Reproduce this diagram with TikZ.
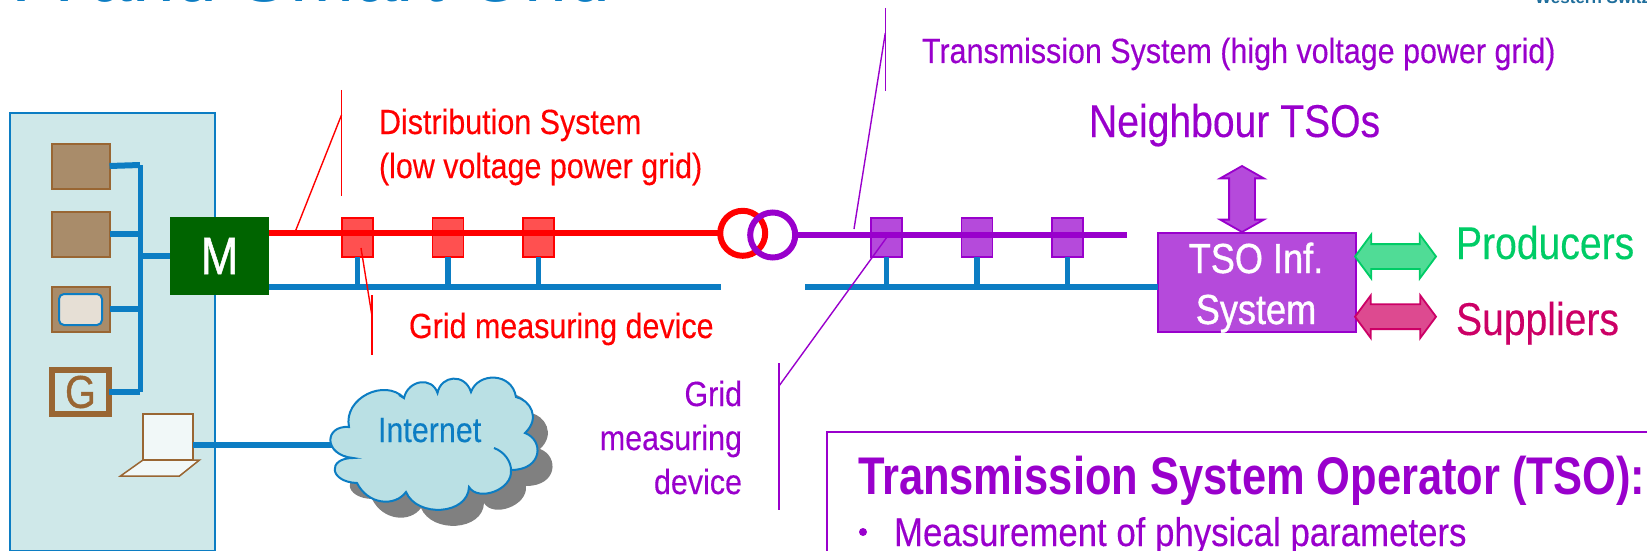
\documentclass[tikz,border=0pt]{standalone}
\usepackage{fontspec}
\usetikzlibrary{shapes.arrows}
\newfontfamily\nar[FakeStretch=0.87,FakeBold=0.25]{Liberation Sans}
\newfontfamily\narl[FakeStretch=0.85,FakeBold=0.25]{Liberation Sans}
\newfontfamily\nart[FakeStretch=0.8]{Liberation Sans}
\newfontfamily\narw[FakeStretch=0.86,FakeBold=0.9]{Liberation Sans}
\newfontfamily\narb[FakeStretch=0.82]{Liberation Sans Bold}
\newfontfamily\logofont{Liberation Sans Bold}
\definecolor{cblue}{HTML}{0C7DC3}
\definecolor{cred}{HTML}{FF0000}
\definecolor{cpur}{HTML}{9900CC}
\definecolor{cpurf}{HTML}{B54ADB}
\definecolor{credf}{HTML}{FF5050}
\definecolor{cbrown}{HTML}{996633}
\definecolor{cbrownf}{HTML}{A98C6A}
\definecolor{chouse}{HTML}{CFE8E9}
\definecolor{ccloud}{HTML}{BAE0E4}
\definecolor{cgreen}{HTML}{00CC66}
\definecolor{cgreenf}{HTML}{50DC96}
\definecolor{cmag}{HTML}{CC0066}
\definecolor{cmagf}{HTML}{DD4A90}
\definecolor{cscreen}{HTML}{E6DFD5}
\definecolor{cmeter}{HTML}{006400}
\definecolor{clogo}{HTML}{1F6E9C}
\newcommand{\fs}[1]{\fontsize{#1}{#1}\selectfont}
\newcommand{\cloudpts}{(349,427) .. controls (343,398) and (385,378) .. (404,398)
 .. controls (408,380) and (432,376) .. (437.5,393)
 .. controls (441,375) and (465,373) .. (471,392)
 .. controls (478,372) and (512,372) .. (516,397)
 .. controls (530,400) and (541,418) .. (525,433)
 .. controls (544,440) and (543,470) .. (511,470)
 .. controls (513,490) and (478,502) .. (469,487)
 .. controls (468,515) and (417,518) .. (406,492)
 .. controls (395,507) and (368,505) .. (357,483)
 .. controls (329,482) and (327,458) .. (353,458)
 .. controls (323,455) and (324,425) .. (349,427) -- cycle}
\tikzset{
 x=1pt,y=-1pt,
 txt/.style={inner sep=0,outer sep=0,anchor=base west,font=\nar},
 txtr/.style={inner sep=0,outer sep=0,anchor=base east,font=\nar},
 boxn/.style={inner sep=0,outer sep=0,draw=#1},
 devbox/.style={boxn=cbrown,fill=cbrownf,line width=2pt,minimum width=58pt,minimum height=45pt},
 rmeas/.style={boxn=cred,fill=credf,line width=1.8pt,minimum width=31pt,minimum height=39pt},
 pmeas/.style={boxn=cpur,fill=cpurf,line width=1.8pt,minimum width=31pt,minimum height=39pt},
 wire/.style={cblue,line width=#1},
 callr/.style={cred,line width=1.4pt},
 callp/.style={cpur,line width=1.4pt},
 dbl/.style={double arrow,inner xsep=0,outer sep=0,line width=1.8pt},
}
\begin{document}
\begin{tikzpicture}
\useasboundingbox (0,0) rectangle (1647,551);
\begin{scope}
\clip (0,0) rectangle (1647,551);
% cropped title and logo text
\node[inner sep=0,outer sep=0,anchor=base west,font=\nart,text=cblue] (title) at (17,1.5) {\fs{96}A and Smart Grid};
\node[inner sep=0,anchor=base west,text=clogo] (logo) at (1535,3.5) {\logofont\fs{17}Western Switzerland};
% house
\node[boxn=cblue,fill=chouse,line width=2pt,minimum width=205pt,minimum height=438pt] (house) at (112.5,332) {};
\node[devbox] (d1) at (80.5,166) {};
\node[devbox] (d2) at (80.5,234) {};
\node[devbox] (d3) at (80.5,309) {};
\node[boxn=cblue,fill=cscreen,line width=2pt,rounded corners=5pt,minimum width=43pt,minimum height=31pt] (scr) at (80.5,309.5) {};
\node[boxn=cbrown,fill=chouse,line width=6pt,minimum width=57pt,minimum height=44pt,font=\narw\fs{46},text=cbrown] (g) at (80.5,392) {G};
% wiring
\coordinate (bt) at (140,165);
\coordinate (bb) at (140,392);
\coordinate (bm) at (140,256);
\node[boxn=cbrown,fill=chouse!30!white,line width=1.5pt,minimum width=50pt,minimum height=46pt] (lapscr) at (168,437) {};
\draw[cbrown,fill=chouse!30!white,line width=1.5pt] (lapscr.south west) -- (199.5,460) -- (179.5,476) -- (120.5,476) -- cycle;
\draw[wire=5pt] (bt) -- (bb);
\draw[wire=6pt] (d1.east) -- (bt);
\draw[wire=6pt] (d2.east) -- (d2.east -| bt);
\draw[wire=6pt] (d3.east) -- (d3.east -| bt);
\draw[wire=6pt] (g.east) -- (bb);
% cloud
\begin{scope}[shift={(15,16)}]
\fill[black!50] \cloudpts;
\end{scope}
\coordinate (cloudw) at (332,445);
\draw[wire=6pt] (lapscr.east |- cloudw) -- (cloudw);
\draw[cblue,fill=ccloud,line width=2pt] \cloudpts;
\draw[cblue,line width=2pt] (494,448) .. controls (505,452) and (511,462) .. (511,470);
\draw[cblue,line width=2pt] (404,398) -- (399,395);
\node[txt,text=cblue,font=\nar\fs{35}] (inet) at (378,442) {Internet};
% meter
\node[fill=cmeter,inner sep=0,outer sep=0,minimum width=99pt,minimum height=78pt,text=white,font=\narw\fs{53}] (m) at (219.5,256) {M};
\draw[wire=6pt] (bm) -- (m.west |- bm);
% red side
\coordinate (rbus0) at (269,287);
\coordinate (rbus1) at (721,287);
\node[rmeas] (r1) at (357.5,237.5) {};
\node[rmeas] (r2) at (448,237.5) {};
\node[rmeas] (r3) at (538.5,237.5) {};
\draw[wire=5.5pt] (r1.south) -- (r1.south |- rbus0);
\draw[wire=5.5pt] (r2.south) -- (r2.south |- rbus0);
\draw[wire=5.5pt] (r3.south) -- (r3.south |- rbus0);
\draw[wire=6.5pt] (rbus0) -- (rbus1);
\node[circle,draw=cred,line width=6pt,inner sep=0,outer sep=0,minimum size=45pt] (tr) at (742.7,233.3) {};
\coordinate (rstart) at (269,233.3);
\draw[cred,line width=6pt] (rstart) -- (tr.west);
% purple side
\coordinate (pbus0) at (805,287);
\node[pmeas] (p1) at (886.5,237.5) {};
\node[pmeas] (p2) at (977,237.5) {};
\node[pmeas] (p3) at (1067.5,237.5) {};
\draw[wire=5.5pt] (p1.south) -- (p1.south |- pbus0);
\draw[wire=5.5pt] (p2.south) -- (p2.south |- pbus0);
\draw[wire=5.5pt] (p3.south) -- (p3.south |- pbus0);
\node[boxn=cpur,fill=cpurf,line width=2.4pt,minimum width=198pt,minimum height=99pt] (tso) at (1257,282.5) {};
\draw[wire=6.5pt] (pbus0) -- (pbus0 -| tso.west);
\node[circle,draw=cpur,line width=6pt,inner sep=0,outer sep=0,minimum size=45pt] (tp) at (772.7,235) {};
\coordinate (pend) at (1126.7,235);
\draw[cpur,line width=6pt] (tp.east) -- (pend);
% TSO text
\node[inner sep=0,anchor=base,text=white,font=\narw\fs{42}] (t1) at (1256,273) {TSO Inf.};
\node[inner sep=0,anchor=base,text=white,font=\narw\fs{42}] (t2) at (1256,324) {System};
% arrows
\node[dbl,draw=cpur,fill=cpurf,rotate=90,inner ysep=12pt,minimum height=66pt,double arrow head extend=9pt,double arrow tip angle=121] (a1) at (1242,199) {};
\node[dbl,draw=cgreen,fill=cgreenf,inner ysep=11.5pt,minimum height=81pt,double arrow head extend=9.5pt,double arrow tip angle=107] (a2) at (1395.5,256.5) {};
\node[dbl,draw=cmag,fill=cmagf,inner ysep=11.5pt,minimum height=81pt,double arrow head extend=9pt,double arrow tip angle=107] (a3) at (1395.5,316.7) {};
% labels
\node[txt,text=cred,font=\nar\fs{35}] (ds1) at (379,134) {Distribution System};
\node[txt,text=cred,font=\nar\fs{35}] (ds2) at (379,178) {(low voltage power grid)};
\node[txt,text=cred,font=\nar\fs{35}] (gm) at (409,338) {Grid measuring device};
\node[txt,text=cpur,font=\nar\fs{35}] (ts) at (922,63) {Transmission System (high voltage power grid)};
\node[txt,text=cpur,font=\narl\fs{46}] (nb) at (1089,137) {Neighbour TSOs};
\node[txt,text=cgreen,font=\narl\fs{46}] (pr) at (1456,259) {Producers};
\node[txt,text=cmag,font=\narl\fs{46}] (su) at (1456,335) {Suppliers};
\node[txtr,text=cpur,font=\nar\fs{35}] (pg1) at (742,406) {Grid};
\node[txtr,text=cpur,font=\nar\fs{35}] (pg2) at (742,450) {measuring};
\node[txtr,text=cpur,font=\nar\fs{35}] (pg3) at (742,494) {device};
% callouts
\coordinate (c1a) at (341.5,90); \coordinate (c1b) at (341.5,196);
\coordinate (c1c) at (341.5,115); \coordinate (c1d) at (295.5,231);
\draw[callr] (c1a) -- (c1b); \draw[callr] (c1c) -- (c1d);
\coordinate (c2a) at (372,295); \coordinate (c2b) at (372,355);
\coordinate (c2c) at (372,316); \coordinate (c2d) at (361,248);
\draw[callr] (c2a) -- (c2b); \draw[callr] (c2c) -- (c2d);
\coordinate (c3a) at (885.3,8); \coordinate (c3b) at (885.3,91);
\coordinate (c3c) at (885.3,33); \coordinate (c3d) at (854,229);
\draw[callp] (c3a) -- (c3b); \draw[callp] (c3c) -- (c3d);
\coordinate (c4a) at (779,363); \coordinate (c4b) at (779,510);
\coordinate (c4c) at (779,386); \coordinate (c4d) at (887,237);
\draw[callp] (c4a) -- (c4b); \draw[callp] (c4c) -- (c4d);
% TSO box
\node[boxn=cpur,line width=2.4pt,minimum width=900pt,minimum height=300pt,anchor=north west] (tbox) at (827,432) {};
\node[inner sep=0,outer sep=0,anchor=base west,text=cpur,font=\narb\fs{53}] (tt) at (858,494) {Transmission System Operator (TSO):};
\node[circle,fill=cpur,inner sep=0,minimum size=8pt] (bul) at (863,532) {};
\node[txt,text=cpur,font=\nar\fs{40}] (ms) at (894,546) {Measurement of physical parameters};
\end{scope}
\end{tikzpicture}
\end{document}
